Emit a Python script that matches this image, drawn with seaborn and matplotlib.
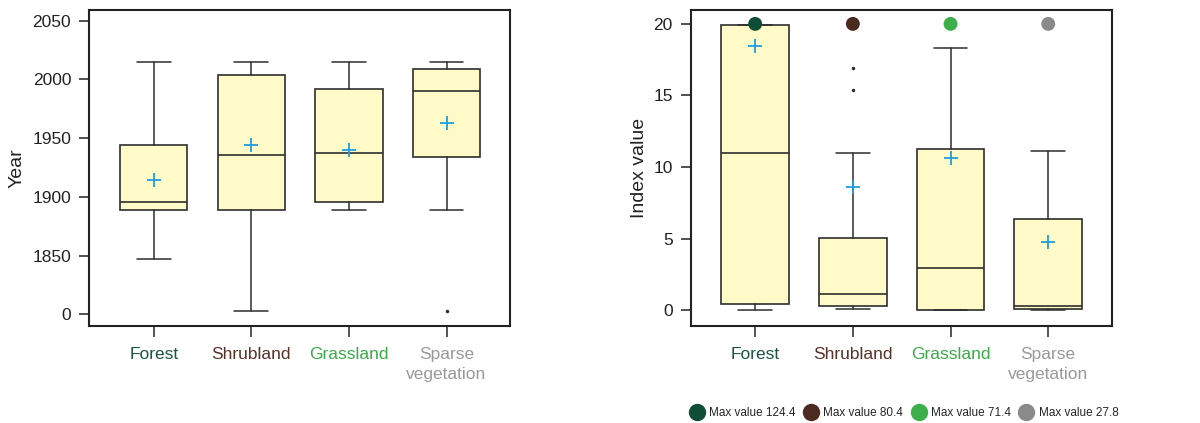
import matplotlib
matplotlib.use("Agg")
import matplotlib.pyplot as plt
import numpy as np
import pandas as pd
import seaborn as sns

categories = ["Forest", "Shrubland", "Grassland", "Sparse\nvegetation"]
label_colors = ["#1b5540", "#573226", "#3aaa48", "#999999"]
dot_colors = ["#0f4d36", "#4b2a20", "#3daf4a", "#8a8a8a"]

# left panel: year (values near 0 sit below the axis break)
year_whislo = [1847, 3, 1889, 1889]
year_q1 = [1889, 1889, 1896, 1934]
year_med = [1896, 1936, 1937, 1990]
year_q3 = [1944, 2004, 1992, 2009]
year_whishi = [2015, 2015, 2015, 2015]
year_mean = [1914, 1944, 1940, 1963]
year_fliers = [[], [], [], [3]]
year_ticks = [0, 1850, 1900, 1950, 2000, 2050]

# right panel: index value
idx_whislo = [0, 0.05, 0, 0]
idx_q1 = [0.4, 0.3, 0, 0.05]
idx_med = [11.0, 1.1, 2.95, 0.3]
idx_q3 = [19.9, 5.05, 11.25, 6.35]
idx_whishi = [19.9, 11.0, 18.35, 11.1]
idx_mean = [18.45, 8.6, 10.6, 4.75]
idx_fliers = [[], [15.4, 16.9], [], []]
idx_max = [124.4, 80.4, 71.4, 27.8]
idx_cap = 20
idx_ticks = [0, 5, 10, 15, 20]

BOX_FILL = "#fffac8"
EDGE = "#2e2e2e"
MEAN_COLOR = "#1e9ee0"

sns.set_theme(style="ticks")
plt.rcParams["font.family"] = ["Liberation Sans", "DejaVu Sans"]


def make_stats(whislo, q1, med, q3, whishi, mean, fliers):
    return [dict(label=c, whislo=a, q1=b, med=m, q3=d, whishi=e, mean=mn, fliers=np.array(f))
            for c, a, b, m, d, e, mn, f in zip(categories, whislo, q1, med, q3, whishi, mean, fliers)]


def draw_boxes(ax, stats):
    ax.bxp(stats, positions=np.arange(len(categories)), widths=0.69, showmeans=True,
           patch_artist=True, manage_ticks=False,
           boxprops=dict(facecolor=BOX_FILL, edgecolor=EDGE, linewidth=1.2),
           medianprops=dict(color=EDGE, linewidth=1.2),
           whiskerprops=dict(color=EDGE, linewidth=1.1),
           capprops=dict(color=EDGE, linewidth=1.1),
           meanprops=dict(marker="+", markeredgecolor=MEAN_COLOR, markersize=10, markeredgewidth=1.3),
           flierprops=dict(marker=".", markersize=3, markerfacecolor=EDGE, markeredgecolor=EDGE))


def style_axes(ax, ylabel, labelpad):
    ax.set_xticks(np.arange(len(categories)))
    ax.set_xticklabels(categories, fontsize=12.5, linespacing=1.4)
    for lab, col in zip(ax.get_xticklabels(), label_colors):
        lab.set_color(col)
    ax.set_xlim(-0.66, 3.65)
    ax.tick_params(axis="y", labelsize=12.5, length=7, width=1.1, pad=6, colors="#222222")
    ax.tick_params(axis="x", length=8, width=1.1, pad=7)
    ax.set_ylabel(ylabel, fontsize=14, labelpad=labelpad, color="#222222")
    ax.set_xlabel("")
    for sp in ax.spines.values():
        sp.set_visible(True)
        sp.set_linewidth(1.5)
        sp.set_color("#222222")


fig = plt.figure(figsize=(12, 4.23), dpi=100)
ax1 = fig.add_axes([0.0744, 0.229, 0.3506, 0.747])
ax2 = fig.add_axes([0.5756, 0.229, 0.3508, 0.747])

# broken year axis: small values are drawn just below 1850
BREAK = 1800


def fwd(y):
    y = np.asarray(y, dtype=float)
    return np.where(y < 900, y + BREAK, y)


def inv(v):
    v = np.asarray(v, dtype=float)
    return np.where(v < BREAK + 25, v - BREAK, v)


ax1.set_yscale("function", functions=(fwd, inv))
draw_boxes(ax1, make_stats(year_whislo, year_q1, year_med, year_q3, year_whishi, year_mean, year_fliers))
ax1.set_ylim(-10, 2059)
ax1.set_yticks(year_ticks)
ax1.set_yticklabels([str(t) for t in year_ticks])
ax1.minorticks_off()
style_axes(ax1, "Year", 5)

draw_boxes(ax2, make_stats(idx_whislo, idx_q1, idx_med, idx_q3, idx_whishi, idx_mean, idx_fliers))
max_df = pd.DataFrame({
    "pos": np.arange(len(categories)),
    "shown": np.minimum(idx_max, idx_cap),
    "label": [f"Max value {v}" for v in idx_max],
})
sns.scatterplot(data=max_df, x="pos", y="shown", hue="label", palette=dot_colors, s=100,
                edgecolor="none", zorder=5, clip_on=False, ax=ax2)
handles, labels = ax2.get_legend_handles_labels()
ax2.get_legend().remove()
ax2.set_ylim(-1.12, 20.96)
ax2.set_yticks(idx_ticks)
style_axes(ax2, "Index value", 4)

fig.legend(handles, labels, loc="center", bbox_to_anchor=(0.7515, 0.0245), ncol=4, frameon=False,
           fontsize=8.5, handletextpad=0.05, columnspacing=0.3, markerscale=1.25, borderaxespad=0)

fig.savefig("out.png", dpi=100, facecolor="white")
